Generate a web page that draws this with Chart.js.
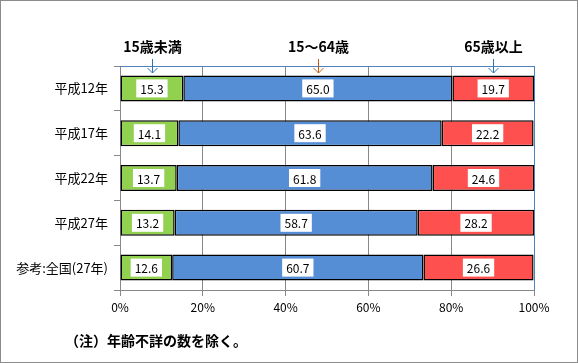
<!DOCTYPE html>
<html>
<head>
<meta charset="utf-8">
<script src="https://cdn.jsdelivr.net/npm/chart.js@4/dist/chart.umd.min.js"></script>
<style>
  html, body { margin: 0; padding: 0; background: #fff; }
  #wrap { position: relative; width: 578px; height: 363px; box-sizing: border-box; border: 1px solid #8c8c8c; }
  canvas { display: block; }
</style>
</head>
<body>
<div id="wrap"><canvas id="chart" width="576" height="361"></canvas></div>
<script>
// Data
const categories = ["平成12年", "平成17年", "平成22年", "平成27年", "参考:全国(27年)"];
const under15 = [15.3, 14.1, 13.7, 13.2, 12.6];
const age15to64 = [65.0, 63.6, 61.8, 58.7, 60.7];
const over65 = [19.7, 22.2, 24.6, 28.2, 26.6];
const seriesNames = ["15歳未満", "15～64歳", "65歳以上"];
const xTicks = [0, 20, 40, 60, 80, 100];
const note = "（注）年齢不詳の数を除く。";

const FONT = "'Noto Sans CJK JP', sans-serif";

// white boxes with values on each bar segment
const valueLabels = {
    id: "valueLabels",
    afterDatasetsDraw(chart) {
        const ctx = chart.ctx;
        ctx.save();
        ctx.font = "12px " + FONT;
        ctx.textAlign = "center";
        ctx.textBaseline = "middle";
        chart.data.datasets.forEach((ds, i) => {
            chart.getDatasetMeta(i).data.forEach((bar, j) => {
                const cx = (bar.x + bar.base) / 2;
                const cy = bar.y;
                const txt = ds.data[j].toFixed(1);
                const w = ctx.measureText(txt).width + 8;
                ctx.fillStyle = "#fff";
                ctx.fillRect(cx - w / 2, cy - 9, w, 18);
                ctx.fillStyle = "#000";
                ctx.fillText(txt, cx, cy + 1);
            });
        });
        ctx.restore();
    }
};

// series headings with arrows pointing at the first row
const headings = {
    id: "headings",
    afterDraw(chart) {
        const ctx = chart.ctx;
        const area = chart.chartArea;
        ctx.save();
        // plot border top and right
        ctx.strokeStyle = "#4f81bd";
        ctx.lineWidth = 1;
        ctx.beginPath();
        ctx.moveTo(area.left, area.top + 0.5);
        ctx.lineTo(area.right + 0.5, area.top + 0.5);
        ctx.lineTo(area.right + 0.5, area.bottom);
        ctx.stroke();

        const arrowColors = ["#2e75b6", "#c55a11", "#2e75b6"];
        ctx.font = "bold 14px " + FONT;
        ctx.textAlign = "center";
        ctx.textBaseline = "middle";
        chart.data.datasets.forEach((ds, i) => {
            const bar = chart.getDatasetMeta(i).data[0];
            const x = Math.round((bar.x + bar.base) / 2) + 0.5;
            ctx.fillStyle = "#000";
            ctx.fillText(seriesNames[i], x, 46);
            ctx.strokeStyle = arrowColors[i];
            ctx.lineWidth = 1;
            ctx.beginPath();
            ctx.moveTo(x, 58);
            ctx.lineTo(x, 72);
            ctx.moveTo(x - 5, 67);
            ctx.lineTo(x, 72);
            ctx.lineTo(x + 5, 67);
            ctx.stroke();
        });

        ctx.fillStyle = "#000";
        ctx.textAlign = "left";
        ctx.font = "bold 14px " + FONT;
        ctx.fillText(note, 64, 340);
        ctx.restore();
    }
};

new Chart(document.getElementById("chart"), {
    type: "bar",
    data: {
        labels: categories,
        datasets: [
            { label: seriesNames[0], data: under15, backgroundColor: "#92d050" },
            { label: seriesNames[1], data: age15to64, backgroundColor: "#558ed5" },
            { label: seriesNames[2], data: over65, backgroundColor: "#ff5050" }
        ].map(d => Object.assign(d, {
            borderColor: "#000",
            borderWidth: 1.5,
            borderSkipped: false,
            categoryPercentage: 0.58,
            barPercentage: 1
        }))
    },
    options: {
        indexAxis: "y",
        responsive: false,
        animation: false,
        layout: { padding: { top: 65, right: 43, left: 0, bottom: 0 } },
        plugins: {
            legend: { display: false },
            tooltip: { enabled: false }
        },
        scales: {
            x: {
                stacked: true,
                min: 0,
                max: 100,
                afterBuildTicks: s => { s.ticks = xTicks.map(v => ({ value: v })); },
                afterFit: s => { s.height = 72; },
                border: { color: "#888" },
                grid: { color: "#888", tickLength: 6 },
                ticks: {
                    color: "#000",
                    font: { family: FONT, size: 12 },
                    padding: 4,
                    callback: v => v + "%"
                }
            },
            y: {
                stacked: true,
                afterFit: s => { s.width = 119; },
                border: { color: "#888" },
                grid: { color: "#888", drawOnChartArea: false, tickLength: 6, offset: true },
                ticks: {
                    color: "#000",
                    font: { family: FONT, size: 13 },
                    padding: 6
                }
            }
        }
    },
    plugins: [valueLabels, headings]
});
</script>
</body>
</html>
